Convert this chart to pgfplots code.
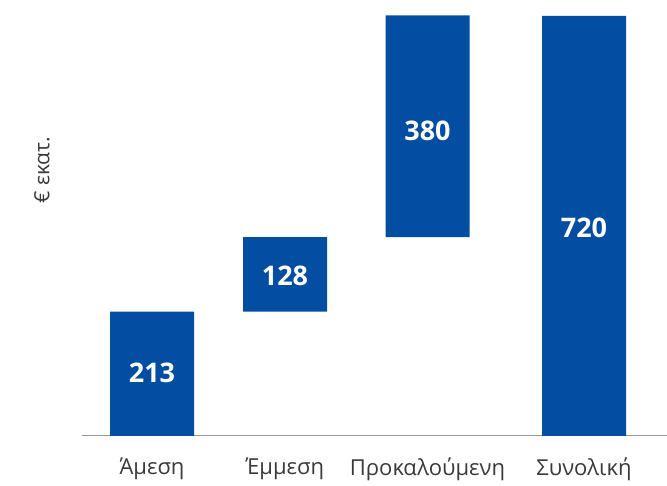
\documentclass[border=0pt]{standalone}
\usepackage{pgfplots}
\pgfplotsset{compat=1.18}
\usepackage{fontspec}
\setmainfont{Open Sans}
\definecolor{barblue}{HTML}{034EA2}
\definecolor{txt}{HTML}{3A3A3A}
\tikzset{numlab/.style={font=\fontsize{27}{30}\selectfont\bfseries, text=white}}
\begin{document}
\begin{tikzpicture}
\useasboundingbox (0pt,0pt) rectangle (667pt,486pt);
\begin{axis}[
  at={(82pt,50pt)}, anchor=south west,
  scale only axis, width=585pt, height=436pt,
  xmin=82, xmax=667, ymin=0, ymax=747.4,
  ybar stacked, bar width=84,
  axis x line=bottom, axis y line=none,
  x axis line style={draw=gray!80, line width=1pt, -},
  xtick={152,285,427.5,584},
  xticklabels={Άμεση,Έμμεση,Προκαλούμενη,Συνολική},
  major tick length=0pt,
  xticklabel style={font=\fontsize{22}{26}\selectfont, text=txt, yshift=-18pt},
  clip=false,
]
\addplot[draw=none, fill=none] coordinates {(152,0) (285,213) (427.5,341) (584,0)};
\addplot[draw=none, fill=barblue] coordinates {(152,213) (285,128) (427.5,380) (584,720)};
\coordinate (n1) at (axis cs:152,108);
\coordinate (n2) at (axis cs:285,275);
\coordinate (n3) at (axis cs:427.5,523);
\coordinate (n4) at (axis cs:584,357);
\end{axis}
\node[numlab] at (n1) {213};
\node[numlab] at (n2) {128};
\node[numlab] at (n3) {380};
\node[numlab] at (n4) {720};
\node[rotate=90, font=\fontsize{21}{24}\selectfont, text=txt] at (42pt,316pt) {€ εκατ.};
\end{tikzpicture}
\end{document}
